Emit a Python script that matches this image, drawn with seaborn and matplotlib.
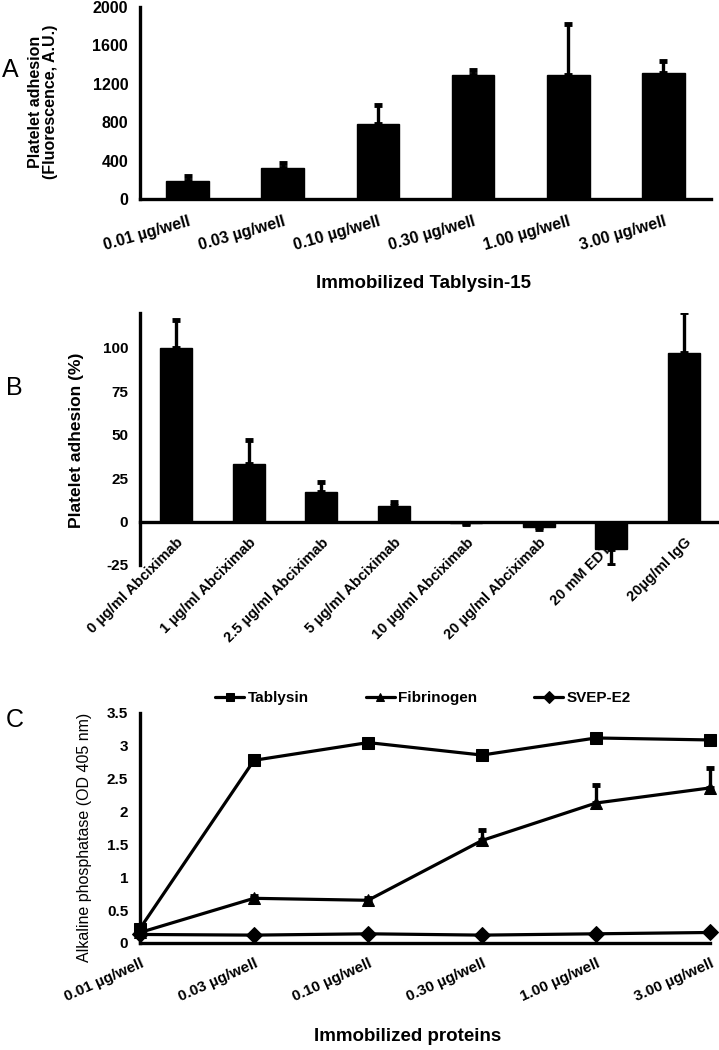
import matplotlib
matplotlib.use("Agg")
import matplotlib.pyplot as plt
import matplotlib.transforms as mtrans
import seaborn as sns
import numpy as np
import pandas as pd

# ---- data ----
a_labels = ['0.01 µg/well', '0.03 µg/well', '0.10 µg/well', '0.30 µg/well', '1.00 µg/well', '3.00 µg/well']
a_values = [185, 320, 780, 1290, 1290, 1310]
a_err = [55, 60, 200, 50, 530, 130]

b_labels = ['0 µg/ml Abciximab', '1 µg/ml Abciximab', '2.5 µg/ml Abciximab', '5 µg/ml Abciximab',
            '10 µg/ml Abciximab', '20 µg/ml Abciximab', '20 mM EDTA', '20µg/ml IgG']
b_values = [100, 33, 17, 9, -1, -3, -16, 97]
b_err = [16, 14, 6, 2, 0.5, 1, 9, 23.5]

c_labels = a_labels
c_series = ['Tablysin', 'Fibrinogen', 'SVEP-E2']
c_tablysin = [0.22, 2.78, 3.05, 2.86, 3.12, 3.09]
c_fibrinogen = [0.16, 0.68, 0.65, 1.56, 2.13, 2.36]
c_svep = [0.13, 0.12, 0.14, 0.12, 0.14, 0.16]
c_tablysin_err = [0.03, 0.03, 0.03, 0.06, 0.03, 0.03]
c_fibrinogen_err = [0.02, 0.04, 0.04, 0.16, 0.27, 0.31]
c_svep_err = [0.01, 0.01, 0.01, 0.01, 0.01, 0.01]

sns.set_style("white")
plt.rcParams['font.family'] = ['Liberation Sans', 'DejaVu Sans']
plt.rcParams['axes.unicode_minus'] = False
plt.rcParams['axes.linewidth'] = 2.2
for k in ['text.color', 'axes.labelcolor', 'xtick.color', 'ytick.color']:
    plt.rcParams[k] = 'black'

fig = plt.figure(figsize=(7.19, 10.5), dpi=100)
W, H = 719.0, 1050.0

def add_ax(x0, x1, ytop, ybot):
    return fig.add_axes([x0 / W, 1 - ybot / H, (x1 - x0) / W, (ybot - ytop) / H])

def style_spines(ax):
    sns.despine(ax=ax)
    for s in ['left', 'bottom']:
        ax.spines[s].set_color('black')
        ax.spines[s].set_linewidth(2.4)

def bold_yticks(ax, size):
    for t in ax.get_yticklabels():
        t.set_fontweight('bold')
        t.set_fontsize(size)

def shift_labels(labels, dx):
    for t in labels:
        t.set_transform(t.get_transform() + mtrans.ScaledTranslation(dx / 100, 0, fig.dpi_scale_trans))

# ---- panel A ----
axA = add_ax(140, 711, 7, 199)
dfA = pd.DataFrame({'conc': a_labels, 'val': a_values})
sns.barplot(data=dfA, x='conc', y='val', color='black', width=0.45, errorbar=None, ax=axA,
            edgecolor='black', saturation=1)
axA.errorbar(range(len(a_values)), a_values, yerr=[np.zeros(len(a_err)), a_err], fmt='none',
             ecolor='black', elinewidth=2.4, capsize=3, capthick=3.5)
axA.set_ylim(0, 2000)
axA.set_xlim(-0.5, len(a_labels) - 0.5)
axA.set_yticks([0, 400, 800, 1200, 1600, 2000])
axA.set_xticks(np.arange(-0.5, len(a_labels)), minor=True)
style_spines(axA)
axA.tick_params(axis='x', which='major', length=0, pad=11)
axA.tick_params(axis='x', which='minor', length=5, width=2.4, direction='out', color='black')
axA.tick_params(axis='y', length=5, width=2.4, direction='out', color='black')
axA.set_xticks(range(len(a_labels)))
axA.set_xticklabels(a_labels, rotation=16, ha='right', rotation_mode='anchor',
                    fontsize=11.5, fontweight='bold')
bold_yticks(axA, 11.5)
axA.set_xlabel('Immobilized Tablysin-15', fontsize=13.5, fontweight='bold')
axA.xaxis.set_label_coords((424 - 140) / 571, (199 - 275) / 192)
axA.set_ylabel('Platelet adhesion\n(Fluorescence, A.U.)', fontsize=11.5, fontweight='bold',
               linespacing=1.0)
axA.yaxis.set_label_coords((58 - 140) / 571, 0.505)
fig.text(2 / W, 1 - 70 / H, 'A', fontsize=18, va='center', ha='left')

# ---- panel B ----
axB = add_ax(140, 720, 313, 565)
dfB = pd.DataFrame({'cond': b_labels, 'val': b_values})
sns.barplot(data=dfB, x='cond', y='val', color='black', width=0.44, errorbar=None, ax=axB,
            edgecolor='black', saturation=1)
b_up = [e if v >= 0 else 0 for v, e in zip(b_values, b_err)]
b_dn = [e if v < 0 else 0 for v, e in zip(b_values, b_err)]
axB.errorbar(range(len(b_values)), b_values, yerr=[b_dn, b_up], fmt='none',
             ecolor='black', elinewidth=2.4, capsize=3, capthick=3.5)
axB.set_ylim(-25, 120)
axB.set_xlim(-0.5, len(b_labels) - 0.5)
axB.set_yticks([-25, 0, 25, 50, 75, 100])
style_spines(axB)
axB.spines['bottom'].set_position(('data', 0))
axB.set_xticks(np.arange(-0.5, len(b_labels)), minor=True)
axB.tick_params(axis='x', which='major', length=0, pad=10)
axB.tick_params(axis='x', which='minor', length=5, width=2.4, direction='out', color='black')
axB.tick_params(axis='y', length=5, width=2.4, direction='out', color='black')
axB.set_xticks(range(len(b_labels)))
axB.set_xticklabels(b_labels, rotation=45, ha='right', rotation_mode='anchor',
                    fontsize=10.5, fontweight='bold')
bold_yticks(axB, 11)
axB.set_xlabel('')
axB.set_ylabel('Platelet adhesion (%)', fontsize=12.5, fontweight='bold')
axB.yaxis.set_label_coords((84 - 140) / 580, 0.496)
fig.text(6 / W, 1 - 388 / H, 'B', fontsize=18, va='center', ha='left')

# ---- panel C ----
axC = add_ax(140, 710, 713, 943)
dfC = pd.DataFrame({
    'x': list(range(len(c_labels))) * 3,
    'val': c_tablysin + c_fibrinogen + c_svep,
    'series': [s for s in c_series for _ in c_labels],
})
sns.lineplot(data=dfC, x='x', y='val', hue='series', style='series',
             palette=['black'] * 3, markers={'Tablysin': 's', 'Fibrinogen': '^', 'SVEP-E2': 'D'},
             dashes=False, markersize=8.5, linewidth=2.3, markeredgecolor='black', ax=axC,
             clip_on=False, zorder=3)
for vals, errs in [(c_tablysin, c_tablysin_err), (c_fibrinogen, c_fibrinogen_err), (c_svep, c_svep_err)]:
    axC.errorbar(range(len(vals)), vals, yerr=[np.zeros(len(errs)), errs], fmt='none',
                 ecolor='black', elinewidth=2.4, capsize=3, capthick=3.5, clip_on=False)
axC.set_ylim(0, 3.5)
axC.set_xlim(0, len(c_labels) - 1)
axC.set_yticks([0, 0.5, 1, 1.5, 2, 2.5, 3, 3.5])
axC.set_yticklabels(['0', '0.5', '1', '1.5', '2', '2.5', '3', '3.5'])
style_spines(axC)
axC.set_xticks(range(len(c_labels)))
axC.set_xticklabels(c_labels, rotation=24, ha='right', rotation_mode='anchor',
                    fontsize=11, fontweight='bold')
shift_labels(axC.get_xticklabels(), 3)
axC.tick_params(axis='x', length=5, width=2.4, direction='out', color='black', pad=5)
axC.tick_params(axis='y', length=5, width=2.4, direction='out', color='black')
bold_yticks(axC, 11)
axC.set_xlabel('Immobilized proteins', fontsize=13.5, fontweight='bold')
axC.xaxis.set_label_coords((408 - 140) / 570, (943 - 1028) / 230)
axC.set_ylabel('Alkaline phosphatase (OD 405 nm)', fontsize=11.5)
axC.yaxis.set_label_coords((92 - 140) / 570, 0.46)
leg = axC.legend(loc='center left', bbox_to_anchor=((215 - 140) / 570, (943 - 698) / 230), ncol=3,
                 frameon=False, handlelength=1.9, columnspacing=3.7, handletextpad=0.25,
                 borderaxespad=0, borderpad=0, markerscale=0.75, prop={'weight': 'bold', 'size': 11})
for h in leg.legend_handles:
    h.set_linewidth(2.3)
fig.text(6 / W, 1 - 720 / H, 'C', fontsize=18, va='center', ha='left')

plt.savefig('out.png', dpi=100)
